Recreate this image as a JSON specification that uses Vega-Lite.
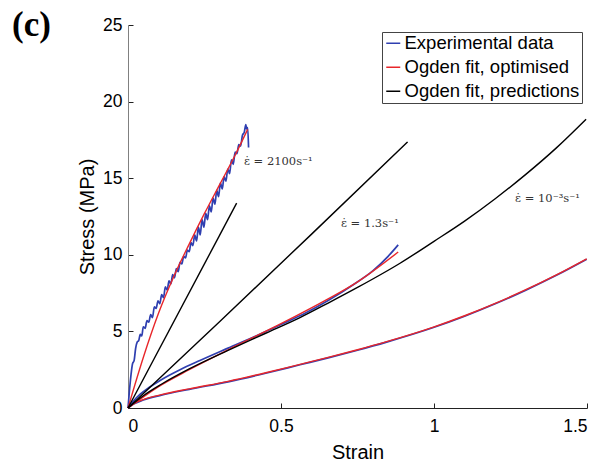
{
  "$schema": "https://vega.github.io/schema/vega-lite/v6.json",
  "autosize": {"type": "none"},
  "padding": {"left": 128, "top": 25, "right": 20, "bottom": 55},
  "width": 459,
  "height": 383,
  "background": "white",
  "title": {"text": "(c)", "font": "Liberation Serif", "fontSize": 35, "fontWeight": "bold", "anchor": "start", "frame": "group", "dx": -116, "dy": 55, "offset": 0, "baseline": "alphabetic", "color": "black"},
  "config": {
    "view": {"stroke": null},
    "axis": {"grid": false, "labelFont": "Liberation Sans", "titleFont": "Liberation Sans", "labelColor": "black", "titleColor": "black", "labelFontSize": 17.5, "titleFontSize": 20, "titleFontWeight": "normal", "tickColor": "#222", "tickSize": -5, "domainWidth": 1, "tickWidth": 1}
  },
  "data": {"values": [
    {"series":"e2100","type":"Experimental data","strain":0,"stress":0},
    {"series":"e2100","type":"Experimental data","strain":0.005,"stress":1.2},
    {"series":"e2100","type":"Experimental data","strain":0.01,"stress":2.2},
    {"series":"e2100","type":"Experimental data","strain":0.015,"stress":2.9},
    {"series":"e2100","type":"Experimental data","strain":0.02,"stress":3.1},
    {"series":"e2100","type":"Experimental data","strain":0.025,"stress":3.9},
    {"series":"e2100","type":"Experimental data","strain":0.03,"stress":4.3},
    {"series":"e2100","type":"Experimental data","strain":0.035,"stress":4.4},
    {"series":"e2100","type":"Experimental data","strain":0.04,"stress":4.8},
    {"series":"e2100","type":"Experimental data","strain":0.045,"stress":4.7},
    {"series":"e2100","type":"Experimental data","strain":0.05,"stress":5.3},
    {"series":"e2100","type":"Experimental data","strain":0.056,"stress":5.2},
    {"series":"e2100","type":"Experimental data","strain":0.062,"stress":5.7},
    {"series":"e2100","type":"Experimental data","strain":0.068,"stress":5.6},
    {"series":"e2100","type":"Experimental data","strain":0.074,"stress":6.1},
    {"series":"e2100","type":"Experimental data","strain":0.08,"stress":5.9},
    {"series":"e2100","type":"Experimental data","strain":0.086,"stress":6.6},
    {"series":"e2100","type":"Experimental data","strain":0.092,"stress":6.5},
    {"series":"e2100","type":"Experimental data","strain":0.098,"stress":7.0},
    {"series":"e2100","type":"Experimental data","strain":0.104,"stress":6.8},
    {"series":"e2100","type":"Experimental data","strain":0.11,"stress":7.4},
    {"series":"e2100","type":"Experimental data","strain":0.116,"stress":7.2},
    {"series":"e2100","type":"Experimental data","strain":0.122,"stress":7.9},
    {"series":"e2100","type":"Experimental data","strain":0.128,"stress":7.7},
    {"series":"e2100","type":"Experimental data","strain":0.134,"stress":8.3},
    {"series":"e2100","type":"Experimental data","strain":0.14,"stress":8.1},
    {"series":"e2100","type":"Experimental data","strain":0.146,"stress":8.7},
    {"series":"e2100","type":"Experimental data","strain":0.152,"stress":8.5},
    {"series":"e2100","type":"Experimental data","strain":0.158,"stress":9.1},
    {"series":"e2100","type":"Experimental data","strain":0.164,"stress":8.9},
    {"series":"e2100","type":"Experimental data","strain":0.17,"stress":9.5},
    {"series":"e2100","type":"Experimental data","strain":0.176,"stress":9.4},
    {"series":"e2100","type":"Experimental data","strain":0.182,"stress":9.9},
    {"series":"e2100","type":"Experimental data","strain":0.188,"stress":9.8},
    {"series":"e2100","type":"Experimental data","strain":0.194,"stress":10.3},
    {"series":"e2100","type":"Experimental data","strain":0.2,"stress":10.2},
    {"series":"e2100","type":"Experimental data","strain":0.206,"stress":10.8},
    {"series":"e2100","type":"Experimental data","strain":0.212,"stress":10.6},
    {"series":"e2100","type":"Experimental data","strain":0.218,"stress":11.3},
    {"series":"e2100","type":"Experimental data","strain":0.224,"stress":10.9},
    {"series":"e2100","type":"Experimental data","strain":0.23,"stress":11.8},
    {"series":"e2100","type":"Experimental data","strain":0.236,"stress":11.3},
    {"series":"e2100","type":"Experimental data","strain":0.242,"stress":12.3},
    {"series":"e2100","type":"Experimental data","strain":0.248,"stress":11.8},
    {"series":"e2100","type":"Experimental data","strain":0.254,"stress":12.7},
    {"series":"e2100","type":"Experimental data","strain":0.26,"stress":12.3},
    {"series":"e2100","type":"Experimental data","strain":0.266,"stress":13.2},
    {"series":"e2100","type":"Experimental data","strain":0.272,"stress":12.8},
    {"series":"e2100","type":"Experimental data","strain":0.278,"stress":13.7},
    {"series":"e2100","type":"Experimental data","strain":0.284,"stress":13.3},
    {"series":"e2100","type":"Experimental data","strain":0.29,"stress":14.2},
    {"series":"e2100","type":"Experimental data","strain":0.296,"stress":13.8},
    {"series":"e2100","type":"Experimental data","strain":0.302,"stress":14.7},
    {"series":"e2100","type":"Experimental data","strain":0.308,"stress":14.3},
    {"series":"e2100","type":"Experimental data","strain":0.314,"stress":15.1},
    {"series":"e2100","type":"Experimental data","strain":0.32,"stress":14.8},
    {"series":"e2100","type":"Experimental data","strain":0.326,"stress":15.6},
    {"series":"e2100","type":"Experimental data","strain":0.332,"stress":15.3},
    {"series":"e2100","type":"Experimental data","strain":0.338,"stress":16.2},
    {"series":"e2100","type":"Experimental data","strain":0.344,"stress":15.9},
    {"series":"e2100","type":"Experimental data","strain":0.35,"stress":16.7},
    {"series":"e2100","type":"Experimental data","strain":0.356,"stress":16.6},
    {"series":"e2100","type":"Experimental data","strain":0.362,"stress":17.2},
    {"series":"e2100","type":"Experimental data","strain":0.368,"stress":17.1},
    {"series":"e2100","type":"Experimental data","strain":0.374,"stress":17.8},
    {"series":"e2100","type":"Experimental data","strain":0.38,"stress":18.0},
    {"series":"e2100","type":"Experimental data","strain":0.385,"stress":18.5},
    {"series":"e2100","type":"Experimental data","strain":0.388,"stress":18.2},
    {"series":"e2100","type":"Experimental data","strain":0.391,"stress":18.3},
    {"series":"e2100","type":"Experimental data","strain":0.394,"stress":17.0},
    {"series":"e1.3","type":"Experimental data","strain":0,"stress":0},
    {"series":"e1.3","type":"Experimental data","strain":0.02,"stress":0.5},
    {"series":"e1.3","type":"Experimental data","strain":0.04,"stress":0.9},
    {"series":"e1.3","type":"Experimental data","strain":0.07,"stress":1.35},
    {"series":"e1.3","type":"Experimental data","strain":0.109,"stress":1.85},
    {"series":"e1.3","type":"Experimental data","strain":0.17,"stress":2.5},
    {"series":"e1.3","type":"Experimental data","strain":0.235,"stress":3.1},
    {"series":"e1.3","type":"Experimental data","strain":0.327,"stress":3.91},
    {"series":"e1.3","type":"Experimental data","strain":0.42,"stress":4.72},
    {"series":"e1.3","type":"Experimental data","strain":0.5,"stress":5.45},
    {"series":"e1.3","type":"Experimental data","strain":0.58,"stress":6.2},
    {"series":"e1.3","type":"Experimental data","strain":0.654,"stress":7.02},
    {"series":"e1.3","type":"Experimental data","strain":0.736,"stress":8.05},
    {"series":"e1.3","type":"Experimental data","strain":0.8,"stress":8.95},
    {"series":"e1.3","type":"Experimental data","strain":0.85,"stress":9.9},
    {"series":"e1.3","type":"Experimental data","strain":0.883,"stress":10.65},
    {"series":"e0.001","type":"Experimental data","strain":0,"stress":0},
    {"series":"e0.001","type":"Experimental data","strain":0.02,"stress":0.27},
    {"series":"e0.001","type":"Experimental data","strain":0.05,"stress":0.52},
    {"series":"e0.001","type":"Experimental data","strain":0.109,"stress":0.84},
    {"series":"e0.001","type":"Experimental data","strain":0.2,"stress":1.22},
    {"series":"e0.001","type":"Experimental data","strain":0.327,"stress":1.71},
    {"series":"e0.001","type":"Experimental data","strain":0.45,"stress":2.27},
    {"series":"e0.001","type":"Experimental data","strain":0.562,"stress":2.82},
    {"series":"e0.001","type":"Experimental data","strain":0.654,"stress":3.27},
    {"series":"e0.001","type":"Experimental data","strain":0.75,"stress":3.77},
    {"series":"e0.001","type":"Experimental data","strain":0.845,"stress":4.3},
    {"series":"e0.001","type":"Experimental data","strain":0.998,"stress":5.25},
    {"series":"e0.001","type":"Experimental data","strain":1.1,"stress":5.99},
    {"series":"e0.001","type":"Experimental data","strain":1.2,"stress":6.8},
    {"series":"e0.001","type":"Experimental data","strain":1.3,"stress":7.69},
    {"series":"e0.001","type":"Experimental data","strain":1.4,"stress":8.66},
    {"series":"e0.001","type":"Experimental data","strain":1.499,"stress":9.71},
    {"series":"f2100","type":"Ogden fit, optimised","strain":0,"stress":0},
    {"series":"f2100","type":"Ogden fit, optimised","strain":0.05,"stress":3.3},
    {"series":"f2100","type":"Ogden fit, optimised","strain":0.1,"stress":6.2},
    {"series":"f2100","type":"Ogden fit, optimised","strain":0.15,"stress":8.6},
    {"series":"f2100","type":"Ogden fit, optimised","strain":0.2,"stress":10.7},
    {"series":"f2100","type":"Ogden fit, optimised","strain":0.25,"stress":12.7},
    {"series":"f2100","type":"Ogden fit, optimised","strain":0.3,"stress":14.6},
    {"series":"f2100","type":"Ogden fit, optimised","strain":0.35,"stress":16.5},
    {"series":"f2100","type":"Ogden fit, optimised","strain":0.391,"stress":18.19},
    {"series":"f1.3","type":"Ogden fit, optimised","strain":0,"stress":0},
    {"series":"f1.3","type":"Ogden fit, optimised","strain":0.1,"stress":1.4},
    {"series":"f1.3","type":"Ogden fit, optimised","strain":0.2,"stress":2.5},
    {"series":"f1.3","type":"Ogden fit, optimised","strain":0.327,"stress":3.8},
    {"series":"f1.3","type":"Ogden fit, optimised","strain":0.5,"stress":5.5},
    {"series":"f1.3","type":"Ogden fit, optimised","strain":0.654,"stress":7.12},
    {"series":"f1.3","type":"Ogden fit, optimised","strain":0.736,"stress":8.05},
    {"series":"f1.3","type":"Ogden fit, optimised","strain":0.883,"stress":10.18},
    {"series":"f0.001","type":"Ogden fit, optimised","strain":0,"stress":0},
    {"series":"f0.001","type":"Ogden fit, optimised","strain":0.02,"stress":0.3},
    {"series":"f0.001","type":"Ogden fit, optimised","strain":0.05,"stress":0.55},
    {"series":"f0.001","type":"Ogden fit, optimised","strain":0.109,"stress":0.87},
    {"series":"f0.001","type":"Ogden fit, optimised","strain":0.2,"stress":1.25},
    {"series":"f0.001","type":"Ogden fit, optimised","strain":0.327,"stress":1.74},
    {"series":"f0.001","type":"Ogden fit, optimised","strain":0.45,"stress":2.3},
    {"series":"f0.001","type":"Ogden fit, optimised","strain":0.562,"stress":2.85},
    {"series":"f0.001","type":"Ogden fit, optimised","strain":0.654,"stress":3.3},
    {"series":"f0.001","type":"Ogden fit, optimised","strain":0.75,"stress":3.8},
    {"series":"f0.001","type":"Ogden fit, optimised","strain":0.845,"stress":4.33},
    {"series":"f0.001","type":"Ogden fit, optimised","strain":0.998,"stress":5.28},
    {"series":"f0.001","type":"Ogden fit, optimised","strain":1.1,"stress":6.02},
    {"series":"f0.001","type":"Ogden fit, optimised","strain":1.2,"stress":6.83},
    {"series":"f0.001","type":"Ogden fit, optimised","strain":1.3,"stress":7.72},
    {"series":"f0.001","type":"Ogden fit, optimised","strain":1.4,"stress":8.69},
    {"series":"f0.001","type":"Ogden fit, optimised","strain":1.499,"stress":9.74},
    {"series":"p2100","type":"Ogden fit, predictions","strain":0,"stress":0},
    {"series":"p2100","type":"Ogden fit, predictions","strain":0.355,"stress":13.37},
    {"series":"p1.3","type":"Ogden fit, predictions","strain":0,"stress":0},
    {"series":"p1.3","type":"Ogden fit, predictions","strain":0.3,"stress":5.65},
    {"series":"p1.3","type":"Ogden fit, predictions","strain":0.6,"stress":11.35},
    {"series":"p1.3","type":"Ogden fit, predictions","strain":0.914,"stress":17.37},
    {"series":"p0.001","type":"Ogden fit, predictions","strain":0,"stress":0},
    {"series":"p0.001","type":"Ogden fit, predictions","strain":0.05,"stress":0.8},
    {"series":"p0.001","type":"Ogden fit, predictions","strain":0.109,"stress":1.55},
    {"series":"p0.001","type":"Ogden fit, predictions","strain":0.2,"stress":2.55},
    {"series":"p0.001","type":"Ogden fit, predictions","strain":0.327,"stress":3.76},
    {"series":"p0.001","type":"Ogden fit, predictions","strain":0.45,"stress":4.88},
    {"series":"p0.001","type":"Ogden fit, predictions","strain":0.562,"stress":5.9},
    {"series":"p0.001","type":"Ogden fit, predictions","strain":0.654,"stress":6.85},
    {"series":"p0.001","type":"Ogden fit, predictions","strain":0.75,"stress":7.87},
    {"series":"p0.001","type":"Ogden fit, predictions","strain":0.889,"stress":9.45},
    {"series":"p0.001","type":"Ogden fit, predictions","strain":1.0,"stress":10.88},
    {"series":"p0.001","type":"Ogden fit, predictions","strain":1.1,"stress":12.2},
    {"series":"p0.001","type":"Ogden fit, predictions","strain":1.2,"stress":13.66},
    {"series":"p0.001","type":"Ogden fit, predictions","strain":1.3,"stress":15.25},
    {"series":"p0.001","type":"Ogden fit, predictions","strain":1.4,"stress":16.98},
    {"series":"p0.001","type":"Ogden fit, predictions","strain":1.497,"stress":18.85}
  ]},
  "layer": [
    {
      "transform": [{"filter": "datum.type === 'Experimental data'"}],
      "mark": {"type": "line", "strokeWidth": 1.7, "interpolate": "monotone"},
      "encoding": {
        "x": {"field": "strain", "type": "quantitative", "scale": {"domain": [0, 1.5], "nice": false}, "axis": {"title": "Strain", "values": [0, 0.5, 1, 1.5], "format": "~g", "domainColor": "#222", "labelPadding": 14, "titlePadding": 8}},
        "y": {"field": "stress", "type": "quantitative", "scale": {"domain": [0, 25], "nice": false}, "axis": {"title": "Stress (MPa)", "values": [0, 5, 10, 15, 20, 25], "domainColor": "#808080", "labelPadding": 11, "titlePadding": 5}},
        "color": {"field": "type", "type": "nominal", "scale": {"domain": ["Experimental data", "Ogden fit, optimised", "Ogden fit, predictions"], "range": ["#2f3fb0", "#e8262a", "#000000"]},
          "legend": {"title": null, "orient": "none", "legendX": 254, "legendY": 7, "strokeColor": "#444", "fillColor": "white", "padding": 2, "symbolType": "stroke", "symbolSize": 196, "symbolStrokeWidth": 1.5, "labelFont": "Liberation Sans", "labelFontSize": 18.5, "labelColor": "black", "labelOffset": 2, "rowPadding": 5, "labelLimit": 300}},
        "detail": {"field": "series", "type": "nominal"}
      }
    },
    {
      "transform": [{"filter": "datum.type === 'Ogden fit, optimised'"}],
      "mark": {"type": "line", "strokeWidth": 1.4, "interpolate": "monotone"},
      "encoding": {
        "x": {"field": "strain", "type": "quantitative"},
        "y": {"field": "stress", "type": "quantitative"},
        "color": {"field": "type", "type": "nominal"},
        "detail": {"field": "series", "type": "nominal"}
      }
    },
    {
      "transform": [{"filter": "datum.type === 'Ogden fit, predictions'"}],
      "mark": {"type": "line", "strokeWidth": 1.4, "interpolate": "monotone"},
      "encoding": {
        "x": {"field": "strain", "type": "quantitative"},
        "y": {"field": "stress", "type": "quantitative"},
        "color": {"field": "type", "type": "nominal"},
        "detail": {"field": "series", "type": "nominal"}
      }
    },
    {
      "data": {"values": [
        {"label": "ε̇ = 2100s⁻¹", "strain": 0.379, "stress": 16.07},
        {"label": "ε̇ = 1.3s⁻¹", "strain": 0.696, "stress": 12.02},
        {"label": "ε̇ = 10⁻³s⁻¹", "strain": 1.265, "stress": 13.63}
      ]},
      "mark": {"type": "text", "align": "left", "baseline": "middle", "font": "DejaVu Serif", "fontSize": 11.5, "color": "#333"},
      "encoding": {
        "x": {"field": "strain", "type": "quantitative"},
        "y": {"field": "stress", "type": "quantitative"},
        "text": {"field": "label"}
      }
    }
  ]
}
